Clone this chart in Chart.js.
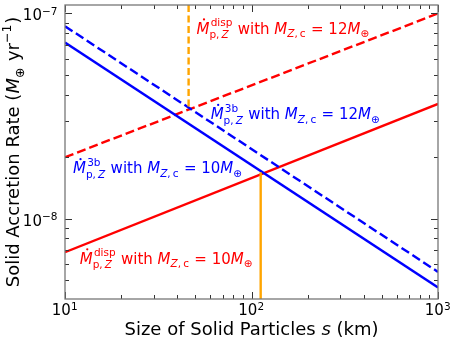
<!DOCTYPE html>
<html>
<head>
<meta charset="utf-8">
<script src="https://cdn.jsdelivr.net/npm/chart.js@4.4.0/dist/chart.umd.min.js"></script>
<style>
  html, body { margin: 0; padding: 0; background: #fff; }
  canvas { display: block; }
</style>
</head>
<body>
<canvas id="myChart" width="452" height="339"></canvas>
<script>
'use strict';

// data

let particleSizes = [10, 1000];
let dispRate10 = [6.85e-9, 3.62e-8];
let dispRate12 = [1.99e-8, 1.0e-7];
let threeBodyRate10 = [7.22e-8, 4.61e-9];
let threeBodyRate12 = [8.67e-8, 5.49e-9];

let crossSize10 = [112, 112];
let crossRate10 = [4.0e-9, 1.68e-8];
let crossSize12 = [46, 46];
let crossRate12 = [1.1e-7, 3.48e-8];

let xMajorTicks = [10, 100, 1000];
let xTickPowers = ['1', '2', '3'];
let yMajorTicks = [1e-8, 1e-7];
let yTickPowers = ['\u22128', '\u22127'];

// annotation text and where it sits (data coords of the left end / baseline)
let annotations = [
  { top: 'disp', mass: '12', color: '#ff0000', x: 50.7, y: 7.97e-8 },
  { top: '3b', mass: '12', color: '#0000ff', x: 60.4, y: 3.05e-8 },
  { top: '3b', mass: '10', color: '#0000ff', x: 11.04, y: 1.658e-8 },
  { top: 'disp', mass: '10', color: '#ff0000', x: 12.0, y: 6.03e-9 }
];

const FONT = '"DejaVu Sans"';

function toPoints(xs, ys) {
  return xs.map((x, i) => ({ x: x, y: ys[i] }));
}

function setFont(ctx, italic, size) {
  ctx.font = (italic ? 'italic ' : '') + size + 'px ' + FONT;
}

// draws a run of plain/italic pieces, returns width
function drawRun(ctx, run, x, y, size, draw) {
  let cx = x;
  run.forEach(p => {
    setFont(ctx, p.it, size);
    if (draw) ctx.fillText(p.t, cx, y);
    cx += ctx.measureText(p.t).width;
  });
  return cx - x;
}

// tiny mathtext-ish renderer: base pieces plus sup/sub blocks
function drawRich(ctx, parts, x, y, size, draw) {
  let cx = x;
  parts.forEach(p => {
    if (p.sup || p.sub) {
      let s = size * 0.7;
      let kern = (p.kern || 0) * size;
      let w1 = 0, w2 = 0;
      if (p.sup) w1 = kern + drawRun(ctx, p.sup, cx + kern, y - p.up * size, s, draw);
      if (p.sub) w2 = drawRun(ctx, p.sub, cx, y + p.down * size, s, draw);
      cx += Math.max(w1, w2) + 0.04 * size;
    } else {
      setFont(ctx, p.it, size);
      let w = ctx.measureText(p.t).width;
      if (draw) {
        ctx.fillText(p.t, cx, y);
        if (p.dot) {
          ctx.beginPath();
          ctx.arc(cx + w * 0.58, y - size * 0.95, size * 0.075, 0, Math.PI * 2);
          ctx.fill();
        }
      }
      cx += w;
    }
  });
  return cx - x;
}

function rateLabel(top, mass) {
  return [
    { t: 'M', it: true, dot: true },
    { sup: [{ t: top }], sub: [{ t: 'p,\u2009' }, { t: 'Z', it: true }], up: 0.5, down: 0.3, kern: 0.08 },
    { t: ' with ' },
    { t: 'M', it: true },
    { sub: [{ t: 'Z', it: true }, { t: ',\u2009c' }], down: 0.25 },
    { t: ' = ' + mass },
    { t: 'M', it: true },
    { sub: [{ t: '\u2295' }], down: 0.25 }
  ];
}

const paperStyle = {
  id: 'paperStyle',
  afterDatasetsDraw(chart) {
    let ctx = chart.ctx;
    let xs = chart.scales.x;
    let ys = chart.scales.y;
    ctx.save();
    ctx.textBaseline = 'alphabetic';
    ctx.textAlign = 'left';
    annotations.forEach(a => {
      ctx.fillStyle = a.color;
      drawRich(ctx, rateLabel(a.top, a.mass), xs.getPixelForValue(a.x), ys.getPixelForValue(a.y), 15, true);
    });
    ctx.restore();
  },
  afterDraw(chart) {
    let ctx = chart.ctx;
    let area = chart.chartArea;
    let xs = chart.scales.x;
    let ys = chart.scales.y;
    ctx.save();

    // inward ticks on all four sides
    let xMinor = [];
    [10, 100].forEach(d => { for (let m = 2; m < 10; m++) xMinor.push(d * m); });
    let yMinor = [];
    [1e-9, 1e-8].forEach(d => {
      for (let m = 2; m < 10; m++) {
        let v = d * m;
        if (v >= ys.min && v <= ys.max) yMinor.push(v);
      }
    });

    ctx.strokeStyle = '#333';
    ctx.lineWidth = 1;
    ctx.beginPath();
    function xTick(v, len) {
      let px = Math.round(xs.getPixelForValue(v)) + 0.5;
      ctx.moveTo(px, area.bottom); ctx.lineTo(px, area.bottom - len);
      ctx.moveTo(px, area.top); ctx.lineTo(px, area.top + len);
    }
    function yTick(v, len) {
      let py = Math.round(ys.getPixelForValue(v)) + 0.5;
      ctx.moveTo(area.left, py); ctx.lineTo(area.left + len, py);
      ctx.moveTo(area.right, py); ctx.lineTo(area.right - len, py);
    }
    xMajorTicks.forEach(v => xTick(v, 7));
    xMinor.forEach(v => xTick(v, 4));
    yMajorTicks.forEach(v => yTick(v, 7));
    yMinor.forEach(v => yTick(v, 4));
    ctx.stroke();

    // frame
    ctx.strokeStyle = '#777';
    ctx.lineWidth = 1.3;
    ctx.strokeRect(area.left, area.top, area.right - area.left, area.bottom - area.top);

    // tick labels
    ctx.fillStyle = '#000';
    ctx.textAlign = 'left';
    ctx.textBaseline = 'alphabetic';
    xMajorTicks.forEach((v, i) => {
      let parts = [{ t: '10' }, { sup: [{ t: xTickPowers[i] }], up: 0.35 }];
      let w = drawRich(ctx, parts, 0, 0, 15, false);
      drawRich(ctx, parts, xs.getPixelForValue(v) - w / 2, area.bottom + 16, 15, true);
    });
    yMajorTicks.forEach((v, i) => {
      let parts = [{ t: '10' }, { sup: [{ t: yTickPowers[i] }], up: 0.35 }];
      let w = drawRich(ctx, parts, 0, 0, 15, false);
      drawRich(ctx, parts, area.left - 7 - w, ys.getPixelForValue(v) + 7, 15, true);
    });

    // axis titles
    let xTitle = [{ t: 'Size of Solid Particles ' }, { t: 's', it: true }, { t: ' (km)' }];
    let wx = drawRich(ctx, xTitle, 0, 0, 18, false);
    drawRich(ctx, xTitle, (area.left + area.right) / 2 - wx / 2, area.bottom + 36, 18, true);

    let yTitle = [
      { t: 'Solid Accretion Rate (' },
      { t: 'M', it: true },
      { sub: [{ t: '\u2295' }], down: 0.25 },
      { t: ' yr' },
      { sup: [{ t: '\u22121' }], up: 0.45 },
      { t: ')' }
    ];
    let wy = drawRich(ctx, yTitle, 0, 0, 18, false);
    ctx.translate(19, (area.top + area.bottom) / 2);
    ctx.rotate(-Math.PI / 2);
    drawRich(ctx, yTitle, -wy / 2, 0, 18, true);

    ctx.restore();
  }
};

function lineSet(xs, ys, color, dashed, order) {
  return {
    data: toPoints(xs, ys),
    borderColor: color,
    borderWidth: 2.4,
    borderDash: dashed ? [9, 4] : [],
    pointRadius: 0,
    fill: false,
    tension: 0,
    order: order
  };
}

const data = {
  datasets: [
    lineSet(particleSizes, dispRate10, '#ff0000', false, 5),
    lineSet(particleSizes, dispRate12, '#ff0000', true, 5),
    lineSet(particleSizes, threeBodyRate10, '#0000ff', false, 4),
    lineSet(particleSizes, threeBodyRate12, '#0000ff', true, 4),
    lineSet(crossSize10, crossRate10, '#ffa500', false, 1),
    lineSet(crossSize12, crossRate12, '#ffa500', true, 1)
  ]
};
data.datasets[5].borderDash = [7, 3.5];

const config = {
  type: 'line',
  data: data,
  options: {
    responsive: false,
    animation: false,
    devicePixelRatio: 1,
    layout: {
      padding: { left: 65, top: 5, right: 14, bottom: 40 }
    },
    plugins: {
      legend: { display: false },
      tooltip: { enabled: false }
    },
    scales: {
      x: { type: 'logarithmic', min: 10, max: 1000, display: false },
      y: { type: 'logarithmic', min: 4.05e-9, max: 1.1e-7, display: false }
    }
  },
  plugins: [paperStyle]
};

let canvasChart = document.getElementById('myChart');
const myChart = new Chart(canvasChart, config);
</script>
</body>
</html>
